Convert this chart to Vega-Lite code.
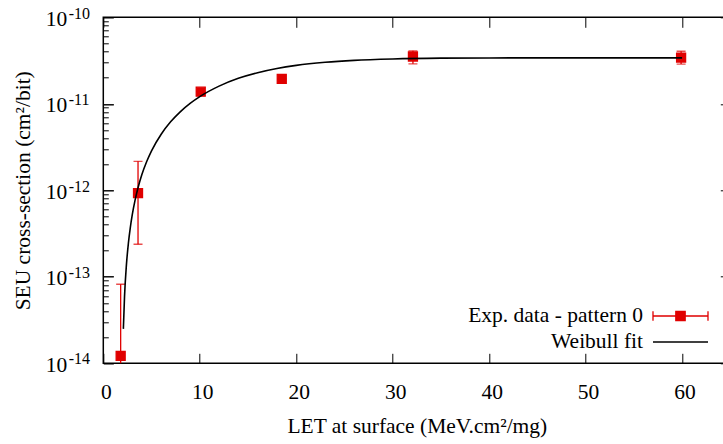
{
  "$schema": "https://vega.github.io/schema/vega-lite/v6.json",
  "width": 627,
  "height": 346,
  "autosize": {"type": "none"},
  "padding": {"left": 103.3, "top": 17.3, "right": 0, "bottom": 80.7},
  "background": "white",
  "config": {
    "view": {"stroke": "black", "strokeWidth": 1.5},
    "font": "Liberation Serif",
    "axis": {
      "labelFont": "Liberation Serif",
      "titleFont": "Liberation Serif",
      "labelFontSize": 21.5,
      "titleFontSize": 21.5,
      "titleFontWeight": "normal",
      "labelColor": "black",
      "titleColor": "black",
      "tickColor": "black",
      "tickWidth": 1,
      "labelFlush": false,
      "labelOverlap": false,
      "domain": false,
      "grid": false
    }
  },
  "datasets": {
    "pts": [
      {"let": 1.8, "sigma": 1.22e-14, "lo": 5e-15, "hi": 8.2e-14, "series": "Exp. data - pattern 0"},
      {"let": 3.6, "sigma": 9.3e-13, "lo": 2.38e-13, "hi": 2.16e-12, "series": "Exp. data - pattern 0"},
      {"let": 10.1, "sigma": 1.38e-11, "lo": 1.38e-11, "hi": 1.38e-11, "series": "Exp. data - pattern 0"},
      {"let": 18.5, "sigma": 1.94e-11, "lo": 1.94e-11, "hi": 1.94e-11, "series": "Exp. data - pattern 0"},
      {"let": 32.1, "sigma": 3.52e-11, "lo": 2.9e-11, "hi": 4.1e-11, "series": "Exp. data - pattern 0"},
      {"let": 59.9, "sigma": 3.42e-11, "lo": 2.88e-11, "hi": 4.05e-11, "series": "Exp. data - pattern 0"}
    ],
    "fit": [
      {"let": 2.08, "sigma": 2.5e-14, "series": "Weibull fit"},
      {"let": 2.2, "sigma": 5.9e-14, "series": "Weibull fit"},
      {"let": 2.4, "sigma": 1.39e-13, "series": "Weibull fit"},
      {"let": 2.6, "sigma": 2.44e-13, "series": "Weibull fit"},
      {"let": 2.8, "sigma": 3.71e-13, "series": "Weibull fit"},
      {"let": 3.0, "sigma": 5.19e-13, "series": "Weibull fit"},
      {"let": 3.3, "sigma": 7.75e-13, "series": "Weibull fit"},
      {"let": 3.6, "sigma": 1.07e-12, "series": "Weibull fit"},
      {"let": 4.0, "sigma": 1.52e-12, "series": "Weibull fit"},
      {"let": 4.5, "sigma": 2.15e-12, "series": "Weibull fit"},
      {"let": 5.0, "sigma": 2.86e-12, "series": "Weibull fit"},
      {"let": 6.0, "sigma": 4.45e-12, "series": "Weibull fit"},
      {"let": 7.0, "sigma": 6.23e-12, "series": "Weibull fit"},
      {"let": 8.0, "sigma": 8.13e-12, "series": "Weibull fit"},
      {"let": 9.0, "sigma": 1.01e-11, "series": "Weibull fit"},
      {"let": 10.0, "sigma": 1.21e-11, "series": "Weibull fit"},
      {"let": 12.0, "sigma": 1.6e-11, "series": "Weibull fit"},
      {"let": 14.0, "sigma": 1.97e-11, "series": "Weibull fit"},
      {"let": 16.0, "sigma": 2.29e-11, "series": "Weibull fit"},
      {"let": 18.0, "sigma": 2.56e-11, "series": "Weibull fit"},
      {"let": 20.0, "sigma": 2.78e-11, "series": "Weibull fit"},
      {"let": 23.0, "sigma": 3.02e-11, "series": "Weibull fit"},
      {"let": 26.0, "sigma": 3.18e-11, "series": "Weibull fit"},
      {"let": 30.0, "sigma": 3.3e-11, "series": "Weibull fit"},
      {"let": 35.0, "sigma": 3.37e-11, "series": "Weibull fit"},
      {"let": 40.0, "sigma": 3.39e-11, "series": "Weibull fit"},
      {"let": 50.0, "sigma": 3.4e-11, "series": "Weibull fit"},
      {"let": 60.0, "sigma": 3.4e-11, "series": "Weibull fit"}
    ]
  },
  "layer": [
    {
      "data": {"name": "pts"},
      "mark": {"type": "rule", "color": "#e00000", "strokeWidth": 1.3, "clip": true},
      "encoding": {
        "x": {
          "field": "let", "type": "quantitative",
          "scale": {"domain": [0, 65], "nice": false, "zero": false},
          "axis": {
            "orient": "bottom",
            "values": [0, 10, 20, 30, 40, 50, 60],
            "tickSize": -10,
            "labelPadding": 28.4,
            "labelOffset": 2.5,
            "title": "LET at surface (MeV.cm²/mg)",
            "titlePadding": 12
          }
        },
        "y": {
          "field": "lo", "type": "quantitative",
          "scale": {"type": "log", "domain": [1e-14, 1e-10], "nice": false},
          "axis": {
            "orient": "left",
            "values": [1e-14, 1e-13, 1e-12, 1e-11, 1e-10],
            "tickSize": -10,
            "labelPadding": 46.6,
            "labelOffset": 2,
            "labelAlign": "right",
            "labelExpr": "'10'",
            "title": "SEU cross-section (cm²/bit)",
            "titlePadding": 11
          }
        },
        "y2": {"field": "hi"}
      }
    },
    {
      "data": {"name": "pts"},
      "mark": {"type": "tick", "orient": "horizontal", "color": "#e00000", "size": 9, "thickness": 1.3, "clip": true},
      "encoding": {
        "x": {
          "field": "let", "type": "quantitative",
          "scale": {"domain": [0, 65], "nice": false, "zero": false},
          "axis": {"orient": "top", "values": [0, 10, 20, 30, 40, 50, 60], "tickSize": -10, "labels": false, "title": null}
        },
        "y": {
          "field": "lo", "type": "quantitative",
          "scale": {"type": "log", "domain": [1e-14, 1e-10], "nice": false},
          "axis": {
            "orient": "left",
            "values": [2e-14, 3e-14, 4e-14, 5e-14, 6e-14, 7e-14, 8e-14, 9e-14, 2e-13, 3e-13, 4e-13, 5e-13, 6e-13, 7e-13, 8e-13, 9e-13, 2e-12, 3e-12, 4e-12, 5e-12, 6e-12, 7e-12, 8e-12, 9e-12, 2e-11, 3e-11, 4e-11, 5e-11, 6e-11, 7e-11, 8e-11, 9e-11],
            "tickSize": -5, "labels": false, "title": null
          }
        }
      }
    },
    {
      "data": {"name": "pts"},
      "mark": {"type": "tick", "orient": "horizontal", "color": "#e00000", "size": 9, "thickness": 1.3, "clip": true},
      "encoding": {
        "x": {"field": "let", "type": "quantitative", "scale": {"domain": [0, 65], "nice": false, "zero": false}, "axis": null},
        "y": {
          "field": "hi", "type": "quantitative",
          "scale": {"type": "log", "domain": [1e-14, 1e-10], "nice": false},
          "axis": {"orient": "right", "values": [1e-14, 1e-13, 1e-12, 1e-11, 1e-10], "tickSize": -10, "labels": false, "title": null}
        }
      }
    },
    {
      "data": {"name": "pts"},
      "mark": {"type": "square", "size": 81, "filled": true, "stroke": "#e00000", "strokeWidth": 1.3, "opacity": 1, "clip": true},
      "encoding": {
        "x": {"field": "let", "type": "quantitative", "scale": {"domain": [0, 65], "nice": false, "zero": false}, "axis": null},
        "y": {
          "field": "sigma", "type": "quantitative",
          "scale": {"type": "log", "domain": [1e-14, 1e-10], "nice": false},
          "axis": {
            "orient": "right",
            "values": [2e-14, 3e-14, 4e-14, 5e-14, 6e-14, 7e-14, 8e-14, 9e-14, 2e-13, 3e-13, 4e-13, 5e-13, 6e-13, 7e-13, 8e-13, 9e-13, 2e-12, 3e-12, 4e-12, 5e-12, 6e-12, 7e-12, 8e-12, 9e-12, 2e-11, 3e-11, 4e-11, 5e-11, 6e-11, 7e-11, 8e-11, 9e-11],
            "tickSize": -5, "labels": false, "title": null
          }
        },
        "fill": {
          "field": "series", "type": "nominal",
          "scale": {"range": ["#e00000"]},
          "legend": {
            "orient": "none", "legendX": 548.7, "legendY": 270.2, "title": null, "padding": 0,
            "symbolType": "M-1,0H1M-1,-0.17V0.17M1,-0.17V0.17M-0.17,-0.17H0.17V0.17H-0.17Z",
            "symbolSize": 3025, "symbolStrokeColor": "#e00000", "symbolStrokeWidth": 1.3, "symbolFillColor": "#e00000",
            "labelAlign": "right", "labelOffset": -66,
            "labelFont": "Liberation Serif", "labelFontSize": 21.5, "labelColor": "black", "labelLimit": 400
          }
        }
      }
    },
    {
      "data": {"name": "fit"},
      "mark": {"type": "line", "strokeWidth": 1.6, "interpolate": "monotone", "clip": true},
      "encoding": {
        "x": {"field": "let", "type": "quantitative", "scale": {"domain": [0, 65], "nice": false, "zero": false}, "axis": null},
        "y": {
          "field": "sigma", "type": "quantitative",
          "scale": {"type": "log", "domain": [1e-14, 1e-10], "nice": false},
          "axis": {
            "orient": "left",
            "values": [1e-14, 1e-13, 1e-12, 1e-11, 1e-10],
            "tickSize": -10,
            "labelPadding": 45,
            "labelOffset": -4.3,
            "labelAlign": "left",
            "labelFontSize": 16,
            "labelExpr": "datum.value > 5e-11 ? '-10' : datum.value > 5e-12 ? '-11' : datum.value > 5e-13 ? '-12' : datum.value > 5e-14 ? '-13' : '-14'",
            "title": null
          }
        },
        "stroke": {
          "field": "series", "type": "nominal",
          "scale": {"range": ["black"]},
          "legend": {
            "orient": "none", "legendX": 548.7, "legendY": 296.2, "title": null, "padding": 0,
            "symbolType": "stroke", "symbolSize": 3025, "symbolStrokeWidth": 1.6,
            "labelAlign": "right", "labelOffset": -66,
            "labelFont": "Liberation Serif", "labelFontSize": 21.5, "labelColor": "black", "labelLimit": 400
          }
        }
      }
    }
  ],
  "resolve": {"axis": {"x": "independent", "y": "independent"}}
}
